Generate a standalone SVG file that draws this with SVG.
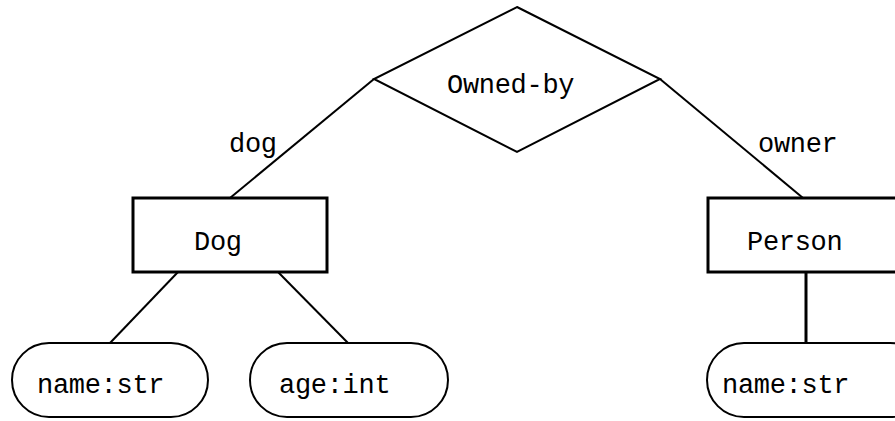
<svg xmlns="http://www.w3.org/2000/svg" width="895" height="421" viewBox="0 0 895 421">
<style>
.t{font-family:"Liberation Mono","DejaVu Sans Mono",monospace;font-size:27px;letter-spacing:-0.3px;fill:#000}
.ln{stroke:#000;stroke-width:2;fill:none}
.box{stroke:#000;stroke-width:3;fill:#fff}
.att{stroke:#000;stroke-width:2;fill:#fff}
</style>
<rect width="895" height="421" fill="#fff"/>
<g id="connectors">
<line class="ln" x1="374" y1="79" x2="230" y2="198"/>
<line class="ln" x1="660" y1="79" x2="803" y2="198"/>
<line class="ln" x1="178" y1="272" x2="110" y2="343"/>
<line class="ln" x1="278" y1="272" x2="348" y2="343"/>
<line class="ln" x1="806" y1="272" x2="806" y2="343" style="stroke-width:3"/>
<text class="t" x="229" y="152">dog</text>
<text class="t" x="758" y="152">owner</text>
</g>
<g id="owned-by">
<polygon class="ln" points="517,7 660,79 517,152 374,79" style="fill:#fff"/>
<text class="t" x="447" y="93">Owned-by</text>
</g>
<g id="dog">
<rect class="box" x="133" y="198" width="194" height="74"/>
<text class="t" x="194" y="250">Dog</text>
</g>
<g id="person">
<rect class="box" x="708" y="198" width="200" height="74"/>
<text class="t" x="747" y="250">Person</text>
</g>
<g id="dog-name">
<rect class="att" x="12" y="343" width="196" height="74" rx="37" ry="37"/>
<text class="t" x="37" y="393">name:str</text>
</g>
<g id="dog-age">
<rect class="att" x="250" y="343" width="198" height="74" rx="37" ry="37"/>
<text class="t" x="279" y="393">age:int</text>
</g>
<g id="person-name">
<rect class="att" x="707" y="343" width="220" height="74" rx="37" ry="37"/>
<text class="t" x="722" y="393">name:str</text>
</g>
</svg>
